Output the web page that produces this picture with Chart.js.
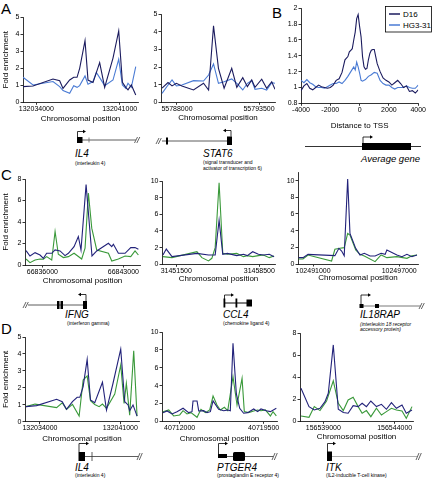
<!DOCTYPE html>
<html><head><meta charset="utf-8">
<script src="https://cdn.jsdelivr.net/npm/chart.js@4.4.0/dist/chart.umd.min.js"></script>
<style>
html,body{margin:0;padding:0;background:#fff;}
#page{position:relative;width:433px;height:486px;overflow:hidden;font-family:"Liberation Sans",Arial,sans-serif;}
#page canvas{position:absolute;}
#page svg{position:absolute;left:0;top:0;}
</style></head><body><div id="page">
<svg id="art" width="433" height="486" xmlns="http://www.w3.org/2000/svg" font-family="Liberation Sans, Arial, sans-serif">
<g font-size="15" fill="#000">
<text x="1" y="14">A</text><text x="272" y="18">B</text><text x="1" y="180">C</text><text x="1" y="334">D</text>
</g>
<g stroke="#000" stroke-width="0.8" fill="none">
<!-- IL4 A -->
<line x1="82" y1="140" x2="136" y2="140" stroke="#333"/>
<line x1="89" y1="137.5" x2="89" y2="142.5" stroke="#666"/>
<path d="M77.5,137 V131.5 H83"/>
<line x1="134.5" y1="143" x2="137.5" y2="137" stroke="#666" stroke-width="1"/>
<line x1="136.8" y1="143" x2="139.8" y2="137" stroke="#666" stroke-width="1"/>
<!-- STAT6 -->
<line x1="156" y1="144" x2="159" y2="138" stroke="#666" stroke-width="1"/>
<line x1="158.3" y1="144" x2="161.3" y2="138" stroke="#666" stroke-width="1"/>
<line x1="162" y1="141" x2="231" y2="141" stroke="#333"/>
<path d="M231,136.5 V130.5 H226"/>
<!-- Average gene -->
<line x1="305" y1="146.5" x2="421" y2="146.5"/>
<path d="M363,143 V137 H370"/>
<!-- IFNG -->
<line x1="23" y1="308" x2="26" y2="302" stroke="#666" stroke-width="1"/>
<line x1="25.3" y1="308" x2="28.3" y2="302" stroke="#666" stroke-width="1"/>
<line x1="28" y1="305" x2="85" y2="305" stroke="#333"/>
<path d="M86,301 V294.5 H81"/>
<!-- CCL4 -->
<path d="M224.5,302 V295 H231"/>
<line x1="224" y1="303" x2="250" y2="303" stroke-width="1"/>
<!-- IL18RAP -->
<path d="M361,304 V295 H368"/>
<line x1="363" y1="306" x2="421" y2="306" stroke="#555"/>
<line x1="419" y1="309" x2="422" y2="303" stroke="#666" stroke-width="1"/>
<line x1="421.3" y1="309" x2="424.3" y2="303" stroke="#666" stroke-width="1"/>
<!-- IL4 D -->
<path d="M79,452 V443.5 H86"/>
<line x1="85" y1="456.5" x2="139" y2="456.5" stroke="#333"/>
<line x1="92" y1="452" x2="92" y2="461" stroke="#333"/>
<line x1="137" y1="460" x2="140" y2="453" stroke="#666" stroke-width="1"/>
<line x1="139.3" y1="460" x2="142.3" y2="453" stroke="#666" stroke-width="1"/>
<!-- PTGER4 -->
<path d="M218.5,454 V443.5 H225"/>
<line x1="227" y1="456.5" x2="274" y2="456.5" stroke="#333"/>
<line x1="272" y1="460" x2="275" y2="453" stroke="#666" stroke-width="1"/>
<line x1="274.3" y1="460" x2="277.3" y2="453" stroke="#666" stroke-width="1"/>
<!-- ITK -->
<path d="M327.5,452 V443.5 H333"/>
<line x1="332" y1="456.5" x2="418" y2="456.5" stroke="#999"/>
<line x1="416" y1="460" x2="419" y2="453" stroke="#666" stroke-width="1"/>
<line x1="418.3" y1="460" x2="421.3" y2="453" stroke="#666" stroke-width="1"/>
</g>
<g fill="#000">
<rect x="77" y="137" width="5.5" height="6"/>
<polygon points="83,129.8 86,131.5 83,133.2"/>
<rect x="166" y="137.5" width="2" height="7"/>
<rect x="227" y="136.5" width="5" height="8.5"/>
<polygon points="226,128.8 223,130.5 226,132.2"/>
<rect x="362" y="143" width="49" height="7"/>
<polygon points="370,135.3 373,137 370,138.7"/>
<rect x="57" y="301" width="2.5" height="8"/><rect x="60.5" y="301" width="2.5" height="8"/>
<rect x="83" y="301" width="4" height="8"/>
<polygon points="81,292.8 78,294.5 81,296.2"/>
<polygon points="231,293.3 234,295 231,296.7"/>
<rect x="223.5" y="298.5" width="1.8" height="9"/><rect x="235.5" y="298.5" width="1.8" height="9"/>
<rect x="246.5" y="299.5" width="5.5" height="7"/>
<polygon points="368,293.3 371,295 368,296.7"/>
<rect x="359.5" y="304" width="4" height="4"/><rect x="375" y="304" width="4" height="4"/>
<polygon points="86,441.8 89,443.5 86,445.2"/>
<rect x="78.5" y="452" width="6.5" height="9"/>
<polygon points="225,441.8 228,443.5 225,445.2"/>
<rect x="218" y="454" width="9" height="4"/>
<rect x="233" y="452" width="12" height="9" rx="1.5"/>
<polygon points="333,441.8 336,443.5 333,445.2"/>
<rect x="327" y="451.5" width="5" height="9.5"/>
</g>
<g font-style="italic" font-size="10" fill="#000">
<text x="75" y="157">IL4</text>
<text x="203" y="156.5">STAT6</text>
<text x="361" y="162" font-size="9.5">Average gene</text>
<text x="65" y="318">IFNG</text>
<text x="223" y="317.5">CCL4</text>
<text x="360" y="318">IL18RAP</text>
<text x="75" y="470.5">IL4</text>
<text x="217" y="470.5">PTGER4</text>
<text x="326" y="470.5">ITK</text>
</g>
<g font-size="5" fill="#000">
<text x="75" y="164.5">(interleukin 4)</text>
<text x="203" y="164">(signal transducer and</text>
<text x="203" y="169.5">activator of transcription 6)</text>
<text x="67" y="324.5">(interferon gamma)</text>
<text x="223" y="325">(chemokine ligand 4)</text>
<text x="360" y="325.5" font-style="italic">(interleukin 18 receptor</text>
<text x="360" y="330.5" font-style="italic">accessory protein)</text>
<text x="75" y="476.5">(interleukin 4)</text>
<text x="217" y="476.5">(prostaglandin E receptor 4)</text>
<text x="326" y="476.5">(IL2-inducible T-cell kinase)</text>
</g>
<g id="legend"></g>
</svg>
</div>
<script>
// ---------- series names & colours ----------
const seriesNames = ['D16', 'HG3-31'];
const colD16 = '#1b1b5e', colHG = '#4a7bd4';
const colNavy = '#22227a', colGreen = '#3a993a';
const xTitle = 'Chromosomal position';
const yTitle = 'Fold enrichment';

// ---------- Panel A, IL4 ----------
const a1Pos = [132032880,132033720,132035400,132035960,132036240,132036800,132037140,132037420,132037640,132038090,132038340,132038760,132039040,132039320,132039740,132040440,132040920,132041230,132041510,132041700,132041980,132042350];
const a1D16 = [0.92,0.96,1.37,1.27,0.82,1.31,1.47,1.47,2.0,3.63,1.31,1.16,1.75,2.33,0.88,2.6,4.2,1.18,0.88,0.73,1.02,0.43];
const a1HG  = [1.47,1.02,1.22,0.92,0.69,0.53,0.98,0.88,0.98,1.55,1.06,1.22,1.75,1.45,0.98,1.31,2.53,1.02,0.82,1.12,0.88,2.1];
const a1XTicks = [132034000,132041000];

// ---------- Panel A, STAT6 ----------
const a2Pos = [55787000,55787400,55787670,55787960,55788330,55789110,55789780,55790120,55790450,55790780,55791160,55791670,55792010,55792410,55792720,55793010,55793230,55793680,55794010,55794350,55794570];
const a2D16 = [0.80,1.12,0.93,1.08,0.93,0.70,1.08,0.70,4.34,1.93,0.80,1.93,0.85,1.40,0.89,1.27,0.85,1.31,0.80,1.17,0.74];
const a2HG  = [0.51,0.98,1.27,0.93,0.98,1.23,1.21,1.55,2.18,1.08,1.17,1.33,1.08,0.70,1.08,1.23,0.74,0.80,0.70,1.12,1.08];
const a2XTicks = [55788000,55793500];

// ---------- Panel B, average gene ----------
const bPosD16 = [-4000,-3800,-3600,-3400,-3200,-3000,-2800,-2600,-2400,-2200,-2000,-1800,-1600,-1400,-1200,-1000,-800,-700,-600,-500,-400,-300,-200,-100,0,100,200,300,400,500,600,700,800,900,1000,1100,1200,1400,1600,1800,2000,2200,2400,2600,2800,3000,3200,3400,3600,3800,4000];
const bD16 = [0.96,1.02,1.05,0.99,0.97,1.0,1.03,1.01,1.0,0.99,1.0,1.03,1.09,1.11,1.19,1.35,1.39,1.45,1.47,1.49,1.6,1.7,1.87,1.92,1.77,1.64,1.39,1.26,1.23,1.24,1.35,1.43,1.47,1.48,1.48,1.39,1.30,1.2,1.12,1.09,1.07,1.03,1.06,1.09,1.05,1.0,1.02,0.95,0.96,0.93,0.97];
const bPosHG = [-4000,-3800,-3600,-3400,-3200,-3000,-2800,-2600,-2400,-2200,-2000,-1800,-1600,-1400,-1200,-1000,-800,-600,-400,-300,-200,-100,0,100,200,400,600,800,1000,1200,1400,1600,1800,2000,2200,2400,2600,2800,3000,3200,3400,3600,3800,4000];
const bHG = [1.09,1.06,1.1,1.06,1.04,1.01,1.0,1.0,0.99,1.01,1.03,1.05,1.05,1.07,1.05,1.09,1.14,1.2,1.26,1.22,1.32,1.26,1.18,1.09,1.08,1.1,1.14,1.16,1.19,1.18,1.09,1.05,1.03,1.03,1.0,0.98,1.0,1.0,1.0,1.02,1.0,0.99,0.99,1.03];
const bXTicks = [-4000,-2000,0,2000,4000];

// ---------- Panel C, IFNG ----------
const c1PosNavy = [66834590,66834930,66835370,66835800,66836090,66836370,66836810,66837100,66837530,66837960,66838250,66838740,66839110,66839340,66839780,66840290,66840700,66841710,66842000,66842140,66842570,66843150,66843640,66844010,66844300];
const c1Navy = [1.34,0.84,1.15,0.93,0.62,1.09,1.09,1.4,1.31,0.87,1.09,1.71,2.65,1.4,7.48,0.84,1.31,2.02,1.71,1.93,1.09,1.09,1.62,1.62,1.46];
const c1PosGreen = [66834590,66834930,66835370,66835800,66836090,66836370,66836810,66837100,66837380,66837820,66838250,66838740,66839400,66839690,66839980,66840270,66840700,66841710,66842000,66842570,66843150,66843640,66844010,66844300];
const c1Green = [0.56,0.22,0.47,0.56,0.53,0.78,0.47,3.12,1.0,0.69,0.78,1.09,0.56,1.56,6.7,3.43,1.4,1.09,0.37,0.56,0.84,0.78,1.31,0.93];
const c1XTicks = [66836000,66843000];

// ---------- Panel C, CCL4 ----------
const c2PosNavy = [31450380,31450660,31451140,31453240,31454220,31454780,31455110,31455420,31455810,31456600,31457160,31457490,31457940,31458420,31458840,31459340,31459740];
const c2Navy = [1.12,1.83,0.92,1.31,1.12,1.12,5.3,1.2,1.31,1.04,1.2,1.04,1.51,1.2,1.12,1.2,0.92];
const c2PosGreen = [31450380,31451140,31453240,31453660,31454220,31454500,31454780,31455110,31455420,31455810,31456600,31457160,31457490,31457940,31458420,31458840,31459340,31459740];
const c2Green = [0.92,0.8,1.51,0.8,0.4,0.72,2.0,9.8,1.31,1.2,1.31,0.92,1.04,0.92,1.04,1.12,0.8,1.0];
const c2XTicks = [31451500,31458500];

// ---------- Panel C, IL18RAP ----------
const c3PosNavy = [102490000,102490300,102490650,102492520,102492800,102492990,102493170,102493410,102493570,102493970,102494270,102494570,102494970,102495320,102495740,102496020,102496140,102496840,102497190,102497540,102497890,102498240];
const c3Navy = [0.76,0.76,1.16,1.0,1.88,1.56,1.0,10.2,3.68,1.88,1.08,1.28,0.96,0.96,1.28,1.16,1.68,1.08,0.88,1.16,0.88,1.08];
const c3PosGreen = [102490000,102490300,102490650,102492290,102492520,102492870,102493170,102493410,102493570,102493970,102494270,102494570,102495320,102495740,102496140,102496840,102497540,102497890,102498240];
const c3Green = [0.6,0.6,1.08,0.36,1.76,1.88,1.96,3.68,3.48,1.68,1.16,0.96,0.28,1.08,0.76,0.88,0.68,1.0,1.08];
const c3XTicks = [102491000,102497000];

// ---------- Panel D, IL4 ----------
const d1PosNavy = [132032790,132033710,132035450,132035940,132036310,132036830,132037240,132037470,132037760,132038110,132038400,132038770,132039440,132039790,132040360,132041030,132041380,132041670,132041810,132042100,132042450];
const d1Navy = [0.89,0.95,1.32,1.18,0.73,1.18,1.44,1.44,2.07,3.68,1.28,1.12,2.33,0.69,2.27,4.28,1.18,0.99,0.65,0.99,0.33];
const d1PosGreen = [132032790,132033570,132035450,132035940,132036310,132036830,132037410,132037760,132038110,132038400,132038770,132039150,132039440,132039790,132040510,132041030,132041320,132041520,132041810,132042160,132042450];
const d1Green = [0.89,1.04,0.83,1.12,0.73,1.02,0.33,2.46,2.70,1.24,1.02,0.89,1.04,0.79,1.63,3.35,1.08,2.27,0.39,4.18,0.33];
const d1XTicks = [132034000,132041000];

// ---------- Panel D, PTGER4 ----------
const d2PosNavy = [40710510,40710870,40711320,40711760,40712300,40712800,40713100,40713190,40713550,40713700,40714140,40714440,40714740,40714980,40715480,40715930,40716290,40716520,40716760,40717060,40717360,40717710,40718070,40718610,40718960,40719260,40719740,40720100,40720630];
const d2Navy = [0.97,1.16,0.82,1.08,1.46,0.97,1.08,2.28,2.28,1.16,1.19,0.97,1.08,2.28,1.34,1.19,1.27,1.19,8.73,3.06,1.46,0.9,0.97,1.38,1.08,1.38,1.19,1.08,1.46];
const d2PosGreen = [40710510,40711020,40711460,40712000,40712300,40712650,40713010,40713550,40713900,40714290,40714680,40714980,40715330,40715630,40715990,40716290,40716760,40717120,40717570,40717770,40718160,40718610,40718960,40719260,40719650,40720100,40720330,40720630];
const d2Green = [1.08,1.27,0.6,0.71,1.19,0.82,0.97,0.45,1.34,0.97,1.27,2.84,1.83,1.27,1.57,1.19,5.0,1.83,4.81,1.08,0.97,1.16,1.27,1.19,1.27,0.6,1.08,0.6];
const d2XTicks = [40712000,40719500];

// ---------- Panel D, ITK ----------
const d3PosNavy = [156537440,156538000,156538370,156538770,156539120,156539350,156539700,156540050,156540400,156540740,156541090,156541440,156541720,156542020,156542330,156542720,156543070,156543420,156543770,156544120,156544510,156544810,156545210];
const d3Navy = [2.99,1.33,1.03,1.18,1.78,2.54,6.92,1.09,0.79,0.73,1.42,1.33,1.63,1.33,1.84,1.33,1.54,1.09,1.69,1.18,1.48,0.73,1.03];
const d3PosGreen = [156537440,156538000,156538370,156538770,156539230,156539700,156540050,156540400,156540740,156541090,156541440,156541720,156542020,156542330,156542720,156543070,156543420,156543770,156544120,156544510,156544810,156545210];
const d3Green = [0.48,0.36,1.33,0.97,1.84,3.66,1.63,0.97,1.93,2.18,1.33,0.73,0.97,0.42,1.18,0.57,0.88,1.18,1.03,0.94,0.27,1.33];
const d3XTicks = [156539000,156544000];

// ---------- helpers ----------
const FONT = '"Liberation Sans", Arial, sans-serif';
const page = document.getElementById('page');
function pts(xs, ys) { return xs.map((x, i) => ({x: x, y: ys[i]})); }
function ds(label, xs, ys, color) {
  return {label: label, data: pts(xs, ys), borderColor: color, backgroundColor: color,
          borderWidth: 1.1, pointRadius: 0, tension: 0, fill: false};
}
function makeChart(s, datasets) {
  const left = s.cl !== undefined ? s.cl : Math.round(s.L - 20);
  const top = Math.round(s.T - 7);
  const W = Math.round(s.R + 6 - left), H = Math.round(s.B + s.xH - top);
  const yW = s.L - left, padTop = s.T - top, xH = (top + H) - s.B, padR = left + W - s.R;
  const c = document.createElement('canvas');
  c.width = W; c.height = H;
  c.style.left = left + 'px'; c.style.top = top + 'px';
  c.style.width = W + 'px'; c.style.height = H + 'px';
  page.appendChild(c);
  const gridOpt = {drawOnChartArea: false, drawTicks: true, tickLength: 2.5, color: '#000', lineWidth: 0.8};
  new Chart(c, {
    type: 'line',
    data: {datasets: datasets},
    options: {
      responsive: false, animation: false, devicePixelRatio: 1,
      layout: {padding: {top: padTop, right: padR, left: 0, bottom: 0}},
      plugins: {legend: {display: false}, tooltip: {enabled: false}},
      scales: {
        x: {type: 'linear', min: s.xMin, max: s.xMax,
            afterBuildTicks: sc => { sc.ticks = s.xTicks.map(v => ({value: v})); },
            afterFit: sc => { sc.height = xH; },
            ticks: {font: {family: FONT, size: 7}, color: '#000', padding: 0, maxRotation: 0, autoSkip: false,
                    callback: v => String(v)},
            grid: gridOpt, border: {color: '#000', width: 0.8},
            title: {display: true, text: s.xTitle, font: {family: FONT, size: 8}, color: '#000', padding: 0}},
        y: {type: 'linear', min: s.yMin, max: s.yMax,
            afterFit: sc => { sc.width = yW; },
            ticks: {stepSize: s.yStep, font: {family: FONT, size: 7}, color: '#000', padding: 1,
                    callback: v => String(Math.round(v * 10) / 10)},
            grid: gridOpt, border: {color: '#000', width: 0.8},
            title: {display: !!s.yTitle, text: s.yTitle || '', font: {family: FONT, size: 8}, color: '#000', padding: 0}}
      }
    }
  });
}

// ---------- charts ----------
makeChart({cl: 1, L: 23, R: 138, T: 17.3, B: 102.3, xH: 21.5, yMin: 0, yMax: 5, yStep: 1,
  xMin: 132032880, xMax: 132042540, xTicks: a1XTicks, xTitle: xTitle, yTitle: yTitle},
  [ds(seriesNames[0], a1Pos, a1D16, colD16), ds(seriesNames[1], a1Pos, a1HG, colHG)]);
makeChart({L: 161, R: 275, T: 14.3, B: 102.3, xH: 21, yMin: 0, yMax: 5, yStep: 1,
  xMin: 55786930, xMax: 55794570, xTicks: a2XTicks, xTitle: xTitle},
  [ds(seriesNames[0], a2Pos, a2D16, colD16), ds(seriesNames[1], a2Pos, a2HG, colHG)]);
makeChart({L: 301, R: 420, T: 8.3, B: 103.3, xH: 27.5, yMin: 0.8, yMax: 2, yStep: 0.2,
  xMin: -4000, xMax: 4000, xTicks: bXTicks, xTitle: 'Distance to TSS'},
  [ds(seriesNames[0], bPosD16, bD16, colD16), ds(seriesNames[1], bPosHG, bHG, colHG)]);

makeChart({cl: 1, L: 25, R: 140, T: 179, B: 265, xH: 20.5, yMin: 0, yMax: 8, yStep: 1,
  xMin: 66834500, xMax: 66844440, xTicks: c1XTicks, xTitle: xTitle, yTitle: yTitle},
  [ds('navy', c1PosNavy, c1Navy, colNavy), ds('green', c1PosGreen, c1Green, colGreen)]);
makeChart({L: 162, R: 275, T: 181, B: 264.3, xH: 20, yMin: 0, yMax: 10, yStep: 1,
  xMin: 31450300, xMax: 31459820, xTicks: c2XTicks, xTitle: xTitle},
  [ds('navy', c2PosNavy, c2Navy, colNavy), ds('green', c2PosGreen, c2Green, colGreen)]);
makeChart({L: 298, R: 418, T: 172.3, B: 264, xH: 18.5, yMin: 0, yMax: 11, yStep: 1,
  xMin: 102489950, xMax: 102498310, xTicks: c3XTicks, xTitle: xTitle},
  [ds('navy', c3PosNavy, c3Navy, colNavy), ds('green', c3PosGreen, c3Green, colGreen)]);

makeChart({cl: 1, L: 25, R: 139, T: 337, B: 421.7, xH: 22, yMin: 0, yMax: 5, yStep: 1,
  xMin: 132032700, xMax: 132042620, xTicks: d1XTicks, xTitle: xTitle, yTitle: yTitle},
  [ds('navy', d1PosNavy, d1Navy, colNavy), ds('green', d1PosGreen, d1Green, colGreen)]);
makeChart({L: 162, R: 277, T: 332, B: 421.3, xH: 22.5, yMin: 0, yMax: 10, yStep: 1,
  xMin: 40710420, xMax: 40720690, xTicks: d2XTicks, xTitle: xTitle},
  [ds('navy', d2PosNavy, d2Navy, colNavy), ds('green', d2PosGreen, d2Green, colGreen)]);
makeChart({L: 300, R: 413, T: 333, B: 421.3, xH: 20.2, yMin: 0, yMax: 8, yStep: 1,
  xMin: 156537370, xMax: 156545280, xTicks: d3XTicks, xTitle: xTitle},
  [ds('navy', d3PosNavy, d3Navy, colNavy), ds('green', d3PosGreen, d3Green, colGreen)]);

// ---------- legend for panel B ----------
(function () {
  const NS = 'http://www.w3.org/2000/svg';
  const g = document.getElementById('legend');
  const r = document.createElementNS(NS, 'rect');
  r.setAttribute('x', 385.5); r.setAttribute('y', 6.5); r.setAttribute('width', 46); r.setAttribute('height', 25.5);
  r.setAttribute('fill', '#fff'); r.setAttribute('stroke', '#000'); r.setAttribute('stroke-width', 0.8);
  g.appendChild(r);
  [[seriesNames[0], colD16, 14], [seriesNames[1], colHG, 25]].forEach(([name, col, y]) => {
    const l = document.createElementNS(NS, 'line');
    l.setAttribute('x1', 389); l.setAttribute('x2', 400); l.setAttribute('y1', y); l.setAttribute('y2', y);
    l.setAttribute('stroke', col); l.setAttribute('stroke-width', 1.5);
    g.appendChild(l);
    const t = document.createElementNS(NS, 'text');
    t.setAttribute('x', 403); t.setAttribute('y', y + 3); t.setAttribute('font-size', 8);
    t.textContent = name;
    g.appendChild(t);
  });
})();
</script>
</body></html>
